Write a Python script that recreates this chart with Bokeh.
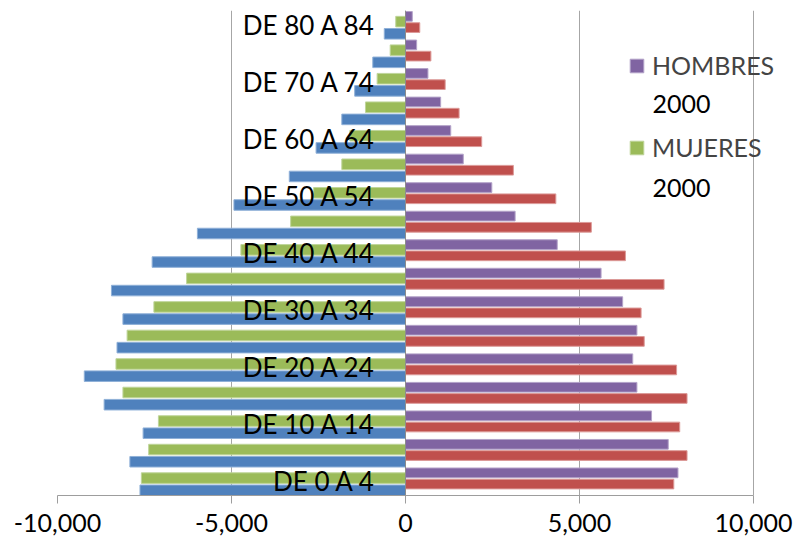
from bokeh.plotting import figure
from bokeh.models import (ColumnDataSource, FixedTicker, NumeralTickFormatter, Range1d,
                          Legend, LegendItem, Span, Label)
from bokeh.transform import dodge
from bokeh.core.properties import value
from bokeh.embed import file_html
from bokeh.resources import INLINE

# ---- data ----
categories = ["DE 0 A 4", "DE 5 A 9", "DE 10 A 14", "DE 15 A 19", "DE 20 A 24",
              "DE 25 A 29", "DE 30 A 34", "DE 35 A 39", "DE 40 A 44", "DE 45 A 49",
              "DE 50 A 54", "DE 55 A 59", "DE 60 A 64", "DE 65 A 69", "DE 70 A 74",
              "DE 75 A 79", "DE 80 A 84"]
mujeres_otro = [-7630, -7920, -7540, -8660, -9230, -8290, -8120, -8450, -7280,
                -5980, -4930, -3340, -2570, -1830, -1460, -940, -610]
mujeres_2000 = [-7590, -7380, -7100, -8120, -8320, -8000, -7230, -6290, -4730,
                -3300, -2640, -1830, -1600, -1150, -815, -440, -280]
hombres_2000 = [7830, 7550, 7070, 6650, 6530, 6650, 6240, 5620, 4360,
                3150, 2480, 1660, 1300, 1010, 645, 320, 195]
hombres_otro = [7710, 8090, 7880, 8090, 7790, 6860, 6770, 7430, 6320,
                5340, 4320, 3100, 2190, 1540, 1140, 730, 410]
x_ticks = [-10000, -5000, 0, 5000, 10000]
legend_year = "2000"

FONT = "Lato"
BLUE, GREEN, PURPLE, RED = "#4F81BD", "#9BBB59", "#8064A2", "#C0504D"

# layout (pixels)
W, H = 794, 544
LEFT, TOP = 57, 10
AXIS_W = 696            # pixels from -10,000 to 10,000
EXTRA_W = 38            # frame continues right of 10,000 (room for legend)
FRAME_H = 485
x_end = 10000 + EXTRA_W * 20000 / AXIS_W

idx = list(range(len(categories)))
src = ColumnDataSource(dict(idx=idx, cat=categories, mo=mujeres_otro, m0=mujeres_2000,
                            h0=hombres_2000, ho=hombres_otro))

p = figure(frame_width=AXIS_W + EXTRA_W, frame_height=FRAME_H, output_backend="svg",
           toolbar_location=None,
           x_range=Range1d(-10000, x_end), y_range=Range1d(-0.5, len(categories) - 0.5),
           y_axis_location=None, min_border_left=LEFT, min_border_top=TOP,
           min_border_right=W - LEFT - AXIS_W - EXTRA_W,
           min_border_bottom=H - TOP - FRAME_H)
p.outline_line_color = None
p.background_fill_color = "white"
p.border_fill_color = "white"

r_mo = p.hbar(y=dodge("idx", -0.317, range=p.y_range), right="mo", left=0, height=0.37,
              source=src, fill_color=BLUE, line_color="#8FB0D8", line_width=1)
r_m0 = p.hbar(y=dodge("idx", 0.110, range=p.y_range), right="m0", left=0, height=0.37,
              source=src, fill_color=GREEN, line_color="#BFD59A", line_width=1)
r_ho = p.hbar(y=dodge("idx", -0.099, range=p.y_range), right="ho", left=0, height=0.34,
              source=src, fill_color=RED, line_color="#DC9A98", line_width=1)
r_h0 = p.hbar(y=dodge("idx", 0.294, range=p.y_range), right="h0", left=0, height=0.34,
              source=src, fill_color=PURPLE, line_color="#B3A2C8", line_width=1)

p.add_layout(Span(location=0, dimension="height", line_color="#8C8C8C", line_width=1))

lab_src = ColumnDataSource(dict(idx=idx[::2], cat=categories[::2], zero=[0] * len(idx[::2])))
p.text(x="zero", y="idx", text="cat", source=lab_src, x_offset=-30, text_align="right",
       text_baseline="middle", text_font=value(FONT), text_font_size="26px",
       text_color="black")

# axes / grid
p.xaxis.ticker = FixedTicker(ticks=x_ticks)
p.xaxis.bounds = (x_ticks[0], x_ticks[-1])
p.xaxis.formatter = NumeralTickFormatter(format="0,0")
p.xaxis.major_label_text_font = FONT
p.xaxis.major_label_text_font_size = "25px"
p.xaxis.major_label_text_color = "black"
p.xaxis.major_label_standoff = 10
p.xaxis.axis_line_color = "#9D9D9D"
p.xaxis.major_tick_line_color = "#9D9D9D"
p.xaxis.major_tick_out = 8
p.xaxis.major_tick_in = 0
p.xaxis.minor_tick_line_color = None
p.xgrid.ticker = FixedTicker(ticks=x_ticks)
p.xgrid.grid_line_color = "#A6A6A6"
p.ygrid.grid_line_color = None

legend = Legend(items=[LegendItem(label="HOMBRES", renderers=[r_h0]),
                       LegendItem(label="MUJERES", renderers=[r_m0])],
                location=(571, 333), orientation="vertical",
                label_text_font=FONT, label_text_font_size="25px",
                glyph_width=17, glyph_height=17, label_standoff=7, spacing=52,
                padding=0, margin=0, border_line_color=None, background_fill_alpha=0)
p.add_layout(legend)

for yy in (392, 308):
    p.add_layout(Label(x=595, y=yy, x_units="screen", y_units="screen", text=legend_year,
                       text_font=FONT, text_font_size="25px", text_color="black",
                       text_baseline="middle", text_align="left"))

open("out.html", "w").write(file_html(p, INLINE))
